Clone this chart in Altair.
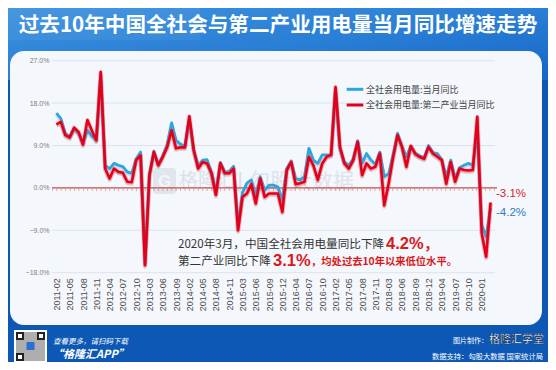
import altair as alt
import pandas as pd

# ---------------- data ----------------
months = [
    "2011-02", "2011-03", "2011-04", "2011-05", "2011-06", "2011-07", "2011-08", "2011-09", "2011-10", "2011-11", "2011-12",
    "2012-03", "2012-04", "2012-05", "2012-06", "2012-07", "2012-08", "2012-09", "2012-10", "2012-11", "2012-12",
    "2013-03", "2013-04", "2013-05", "2013-06", "2013-07", "2013-08", "2013-09", "2013-10", "2013-11",
    "2014-02", "2014-03", "2014-04", "2014-05", "2014-06", "2014-07", "2014-08", "2014-09", "2014-10", "2014-11", "2014-12",
    "2015-02", "2015-03", "2015-04", "2015-05", "2015-06", "2015-07", "2015-08", "2015-09", "2015-10", "2015-11", "2015-12",
    "2016-02", "2016-03", "2016-04", "2016-05", "2016-06", "2016-07", "2016-08", "2016-09", "2016-10", "2016-11", "2016-12",
    "2017-02", "2017-03", "2017-04", "2017-05", "2017-06", "2017-07", "2017-08", "2017-09", "2017-10", "2017-11", "2017-12",
    "2018-02", "2018-03", "2018-04", "2018-05", "2018-06", "2018-07", "2018-08", "2018-09", "2018-10", "2018-11", "2018-12",
    "2019-02", "2019-03", "2019-04", "2019-05", "2019-06", "2019-07", "2019-08", "2019-09", "2019-10", "2019-11", "2019-12",
    "2020-01", "2020-02", "2020-03",
]

total_yoy = [
    15.9, 14.7, 11.6, 10.9, 12.6, 11.6, 9.6, 12.2, 11.0, 10.2, 24.0,
    4.8, 4.1, 5.2, 4.8, 4.5, 3.4, 3.1, 6.2, 7.6, -16.0,
    3.0, 7.8, 5.0, 6.8, 9.2, 13.8, 10.1, 9.3, 8.8,
    14.6, 8.0, 4.8, 5.9, 6.0, 3.4, -1.0, 5.4, 3.4, 3.5, 4.6,
    -8.0, -1.0, 1.0, 1.7, -1.9, 2.4, -0.5, 0.6, 0.6, 0.2, -2.6,
    4.1, 5.7, 2.0, 1.7, 2.4, 8.4, 5.9, 5.2, 7.0, 7.0, 7.0,
    21.0, 8.4, 5.5, 4.8, 6.2, 10.0, 5.2, 7.3, 5.9, 5.0, 7.6,
    2.4, 3.0, 7.0, 11.6, 8.9, 6.6, 8.9, 7.4, 6.8, 6.4, 9.0,
    7.5, 7.3, 6.0, 2.3, 5.9, 2.0, 4.3, 4.8, 5.2, 4.8, 12.0,
    -7.8, -10.4, -4.2,
]

secondary_yoy = [
    13.5, 14.0, 11.2, 10.7, 12.8, 11.9, 9.2, 14.4, 12.2, 10.1, 24.6,
    4.1, 2.0, 4.1, 3.4, 3.2, 1.3, 1.2, 5.9, 6.9, -16.4,
    2.7, 7.6, 4.8, 6.6, 8.7, 12.2, 8.4, 8.6, 8.6,
    15.2, 8.0, 4.1, 5.5, 5.2, 3.1, -1.5, 5.2, 3.1, 3.1, 4.1,
    -9.0, -1.9, -1.2, 0.8, -3.3, 2.0, -1.9, -1.2, -1.2, -1.2, -5.1,
    3.8, 5.5, 0.8, 1.0, 1.3, 6.6, 4.8, 1.7, 5.2, 6.6, 7.0,
    21.4, 8.7, 5.2, 4.1, 5.9, 9.8, 2.7, 5.2, 4.1, 4.5, 7.3,
    -3.7, 1.0, 6.5, 11.2, 8.7, 4.5, 8.9, 7.2, 6.6, 6.2, 8.7,
    7.3, 6.6, 5.9, 0.9, 5.5, 1.3, 4.1, 3.8, 3.7, 3.8, 15.1,
    -9.6, -14.6, -3.1,
]

tick_months = [
    "2011-02", "2011-05", "2011-08", "2011-11", "2012-04", "2012-07", "2012-10",
    "2013-03", "2013-06", "2013-09", "2014-02", "2014-05", "2014-08", "2014-11",
    "2015-03", "2015-06", "2015-09", "2015-12", "2016-04", "2016-07", "2016-10",
    "2017-02", "2017-05", "2017-08", "2017-11", "2018-03", "2018-06", "2018-09",
    "2018-12", "2019-04", "2019-07", "2019-10", "2020-01",
]

y_axis_ticks = [-18, -9, 0, 9, 18, 27]
grid_ticks = [-18, -9, 9, 18, 27]

SER_TOTAL = "全社会用电量:当月同比"
SER_SEC = "全社会用电量:第二产业当月同比"
TITLE = "过去10年中国全社会与第二产业用电量当月同比增速走势"

BLUE = "#2aa6e0"
RED = "#e2001b"
ANN_RED = "#d7191c"
CJK = "Noto Sans CJK SC"
LAT = "Liberation Sans"

# ---------------- geometry helpers (page px -> plot px) ----------------
W, H = 443, 212
OX, OY = 52.0, 60.7


def px(v):
    return v - OX


def py(v):
    return v - OY


data = pd.DataFrame({"month": months, SER_TOTAL: total_yoy, SER_SEC: secondary_yoy}).melt(
    "month", var_name="series", value_name="yoy")
one = pd.DataFrame({"k": [0]})
grid_df = pd.DataFrame({"yoy": grid_ticks})

x_scale = alt.Scale(type="point", domain=months, padding=1.11)
y_scale = alt.Scale(domain=[-18, 27], nice=False, zero=False)
x_axis = alt.Axis(values=tick_months, labelAngle=-90, labelFontSize=9, labelColor="#4d4d4d",
                  labelPadding=5, labelFont=LAT, domain=False, ticks=False, grid=False,
                  title=None, labelOverlap=False, zindex=1)
y_axis = alt.Axis(values=y_axis_ticks, labelExpr="format(datum.value, '.1f') + '%'",
                  labelFontSize=7, labelColor="#808080", labelPadding=3, labelFont=LAT,
                  domain=False, ticks=False, grid=False, title=None, zindex=1)
X = alt.X("month:O", scale=x_scale, axis=x_axis)
Y = alt.Y("yoy:Q", scale=y_scale, axis=y_axis)


def rect(x1, y1, x2, y2, **kw):
    return alt.Chart(one).mark_rect(**kw).encode(
        x=alt.value(px(x1)), x2=alt.value(px(x2)), y=alt.value(py(y1)), y2=alt.value(py(y2)))


def hline(x1, x2, y, **kw):
    return alt.Chart(one).mark_rule(**kw).encode(
        x=alt.value(px(x1)), x2=alt.value(px(x2)), y=alt.value(py(y)))


def text(t, x, y, **kw):
    return alt.Chart(one).mark_text(text=t, **kw).encode(x=alt.value(px(x)), y=alt.value(py(y)))


# ---------------- background ----------------
header = rect(8, 8, 548, 80, color=alt.LinearGradient(
    gradient="linear", x1=0, y1=0, x2=1, y2=1,
    stops=[alt.GradientStop(offset=0, color="#3c92de"),
           alt.GradientStop(offset=0.5, color="#2a7fd6"),
           alt.GradientStop(offset=1, color="#1566c6")]))
streak = rect(8, 8, 200, 40, color="#ffffff", opacity=0.05)
panel = rect(10, 51, 542, 325, color="#f4f7fb", cornerRadius=14)

title = text(TITLE, 278, 26, font=CJK, fontSize=20.6, fontWeight="bold", color="#ffffff",
             align="center", baseline="middle")

# watermark
wm_box = rect(153, 168, 176, 194, color="#b9c6d6", opacity=0.35, cornerRadius=3)
wm_g = text("G", 164.5, 181.5, font=LAT, fontSize=17, fontWeight="bold", color="#f4f7fb",
            align="center", baseline="middle", opacity=0.9)
wm1 = text("格隆汇", 179, 181, font=CJK, fontSize=19, color="#b9c6d6", opacity=0.45,
           align="left", baseline="middle")
wm_sep = text("|", 240, 181, font=LAT, fontSize=22, color="#b9c6d6", opacity=0.45,
              align="center", baseline="middle")
wm2 = text("勾股大数据", 249, 182, font=CJK, fontSize=21, color="#b9c6d6", opacity=0.4,
           align="left", baseline="middle")

# ---------------- grid / zero line ----------------
grid = alt.Chart(grid_df).mark_rule(color="#dce3eb", strokeWidth=1).encode(
    x=alt.value(0), x2=alt.value(W), y=Y)
zero = alt.Chart(one).mark_rule(color="#c4504c", strokeWidth=1.3).encode(
    x=alt.value(0), x2=alt.value(W + 2), y=alt.datum(0))
zero_ticks = alt.Chart(one).mark_rule(color="#c4504c", strokeWidth=2.6, strokeDash=[0.8, 3.62],
                                      opacity=0.55, yOffset=1.8).encode(
    x=alt.value(0), x2=alt.value(W), y=alt.datum(0))

# ---------------- lines ----------------
blue_df = alt.Chart(data).transform_filter(alt.datum.series == SER_TOTAL)
red_df = alt.Chart(data).transform_filter(alt.datum.series == SER_SEC)

blue_shadow = blue_df.mark_line(color="#1b4f72", strokeWidth=3.8, opacity=0.15, yOffset=1.6,
                                strokeJoin="round").encode(x=X, y=Y)
blue_line = blue_df.mark_line(color=BLUE, strokeWidth=2.8, strokeJoin="round").encode(x=X, y=Y)
red_shadow = red_df.mark_line(color="#6d0b14", strokeWidth=3.8, opacity=0.18, yOffset=1.6,
                              strokeJoin="round").encode(x=X, y=Y)
red_glow = red_df.mark_line(color="#ff5a6a", strokeWidth=4.6, opacity=0.3,
                            strokeJoin="round").encode(x=X, y=Y)
red_line = red_df.mark_line(color=RED, strokeWidth=2.6, strokeJoin="round").encode(x=X, y=Y)

# ---------------- legend (drawn) ----------------
leg_b = hline(346.7, 363.3, 89.3, color=BLUE, strokeWidth=3)
leg_r = hline(346.7, 363.3, 105, color=RED, strokeWidth=3)
leg_bt = text(SER_TOTAL, 366, 89.5, font=CJK, fontSize=9, color="#444444", align="left",
              baseline="middle")
leg_rt = text(SER_SEC, 366, 105.2, font=CJK, fontSize=9, color="#444444", align="left",
              baseline="middle")

# ---------------- annotations ----------------
end_red = text("-3.1%", 496, 193.5, font=LAT, fontSize=11.5, color="#d4252a",
               align="left", baseline="middle")
end_blue = text("-4.2%", 496, 213, font=LAT, fontSize=11.5, color="#2f7dc4",
                align="left", baseline="middle")

ann1 = text("2020年3月，中国全社会用电量同比下降", 178, 247.6, font=CJK, fontSize=11.6,
            color="#333333", align="left", baseline="alphabetic")
ann1b = text("4.2%", 386, 249.2, font=LAT, fontSize=16.5, fontWeight="bold", color=ANN_RED,
             align="left", baseline="alphabetic")
ann1c = text("，", 424, 248.5, font=CJK, fontSize=14, fontWeight="bold", color=ANN_RED,
             align="left", baseline="alphabetic")
ann2 = text("第二产业同比下降", 178, 265, font=CJK, fontSize=11.6, color="#333333",
            align="left", baseline="alphabetic")
ann2b = text("3.1%", 273, 266, font=LAT, fontSize=16.5, fontWeight="bold", color=ANN_RED,
             align="left", baseline="alphabetic")
ann2c = text("，均处过去10年以来低位水平。", 311, 265, font=CJK, fontSize=10.3, fontWeight="bold",
             color=ANN_RED, align="left", baseline="alphabetic")

# ---------------- footer ----------------
qr_bg = rect(14, 330, 47, 363, color="#ffffff")
qr_fill = rect(16, 332, 45, 361, color="#6b6b6b", opacity=0.55)
qr_f1 = rect(16, 332, 24, 340, color="#222222")
qr_f2 = rect(37, 332, 45, 340, color="#222222")
qr_f3 = rect(16, 353, 24, 361, color="#222222")
qr_f1i = rect(18, 334, 22, 338, color="#ffffff")
qr_f2i = rect(39, 334, 43, 338, color="#ffffff")
qr_f3i = rect(18, 355, 22, 359, color="#ffffff")
qr_c = rect(26.5, 342, 34.5, 350, color="#2b6fd0", cornerRadius=1)

foot1 = text("查看更多，请扫码下载", 53, 342, font=CJK, fontSize=7.5, fontStyle="italic",
             color="#ffffff", align="left", baseline="middle")
foot2 = text("“格隆汇APP”", 52, 355, font=CJK, fontSize=11, fontStyle="italic", fontWeight="bold",
             color="#ffffff", align="left", baseline="middle")
foot3 = text("图片制作：", 488, 341, font=CJK, fontSize=7, color="#ffffff", align="right",
             baseline="middle")
foot4 = text("格隆汇学堂", 489, 340, font=CJK, fontSize=11, fontWeight="bold", color="#ffffff",
             stroke="#163a70", strokeWidth=0.6, align="left", baseline="middle")
foot5 = text("数据支持：勾股大数据  国家统计局", 543, 357, font=CJK, fontSize=7.3, color="#ffffff",
             align="right", baseline="middle")

chart = alt.layer(
    header, streak, panel, title,
    wm_box, wm_g, wm1, wm_sep, wm2,
    grid, zero, zero_ticks,
    blue_shadow, blue_line, red_shadow, red_glow, red_line,
    leg_b, leg_r, leg_bt, leg_rt,
    end_red, end_blue, ann1, ann1b, ann1c, ann2, ann2b, ann2c,
    qr_bg, qr_fill, qr_f1, qr_f2, qr_f3, qr_f1i, qr_f2i, qr_f3i, qr_c,
    foot1, foot2, foot3, foot4, foot5,
).properties(
    width=W, height=H,
    autosize=alt.AutoSizeParams(type="none"),
    padding={"left": 44, "top": 52.7, "right": 53, "bottom": 89.3},
).configure(
    background="#0c58b4",
).configure_view(stroke=None)

chart.save("out.html", embed_options={"renderer": "svg", "actions": False})
